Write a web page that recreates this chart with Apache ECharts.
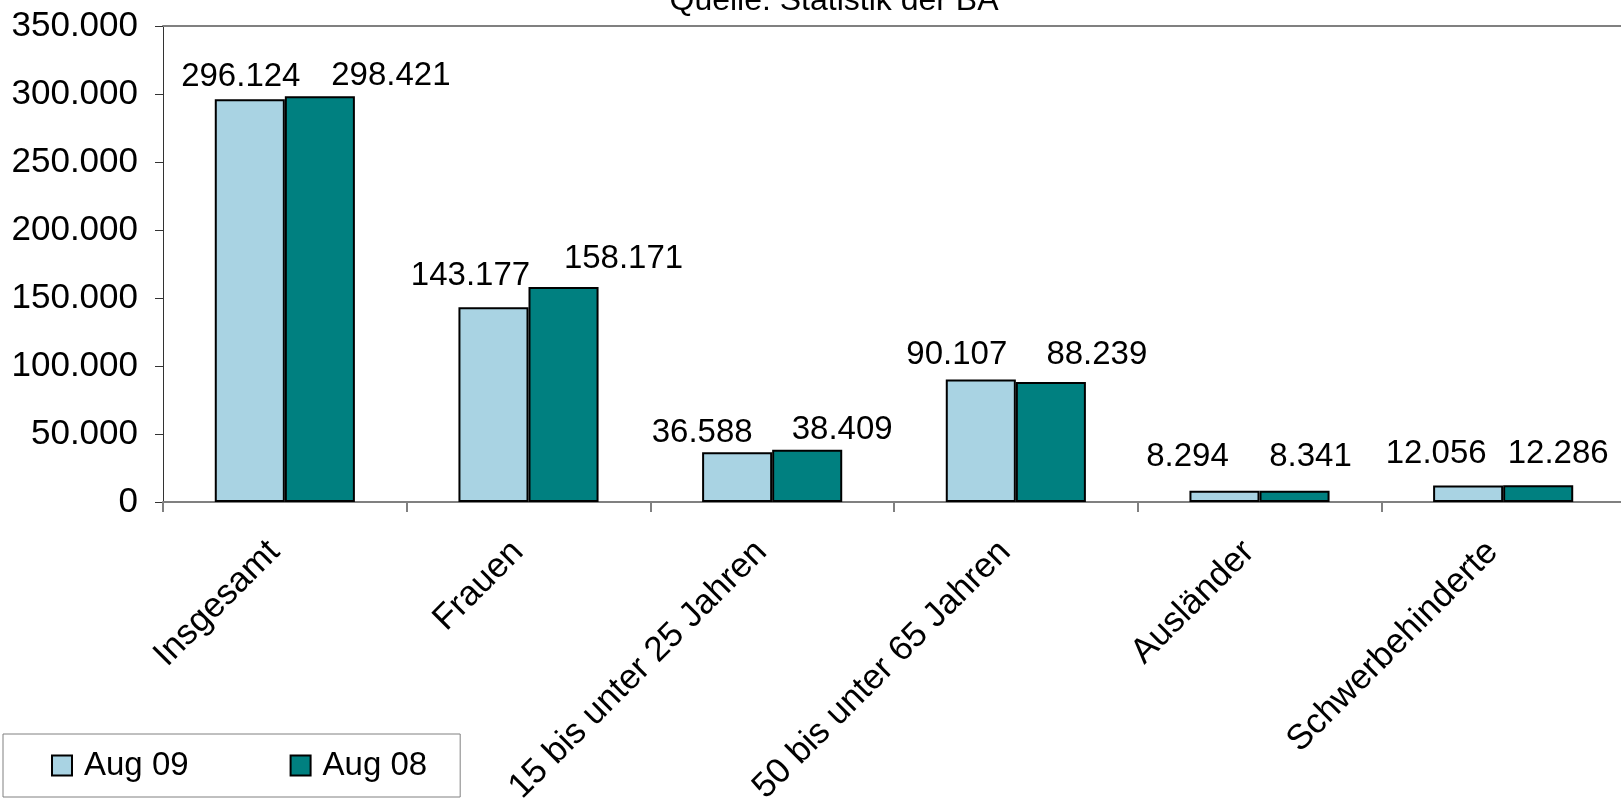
<!DOCTYPE html>
<html>
<head>
<meta charset="utf-8">
<script src="https://cdn.jsdelivr.net/npm/echarts@6/dist/echarts.min.js"></script>
<style>
  html, body { margin: 0; padding: 0; background: #fff; }
  #chart { width: 1621px; height: 799px; }
</style>
</head>
<body>
<div id="chart"></div>
<script>
var categories = ['Insgesamt', 'Frauen', '15 bis unter 25 Jahren', '50 bis unter 65 Jahren', 'Ausländer', 'Schwerbehinderte'];
var aug09 = [296124, 143177, 36588, 90107, 8294, 12056];
var aug08 = [298421, 158171, 38409, 88239, 8341, 12286];
var seriesNames = ['Aug 09', 'Aug 08'];
var sourceText = 'Quelle: Statistik der BA';

// Verschiebung der Wertbeschriftungen wie im Original (px)
var shift09 = [[-9, -6], [-23, -15], [-35, -3], [-24, -8], [-37, -17], [-32, -15]];
var shift08 = [[71, -4], [60, -11], [35, -3], [46, -11], [16, -17], [20, -15]];

var font = 'Liberation Sans, Arial, sans-serif';

// deutsche Tausenderpunkte
function fmt(v) {
    return String(v).replace(/\B(?=(\d{3})+(?!\d))/g, '.');
}

function withLabels(values, shifts) {
    return values.map(function (v, i) {
        return { value: v, label: { offset: shifts[i] } };
    });
}

var valueLabel = {
    show: true, position: 'top', distance: 0,
    fontSize: 33, color: '#000', fontFamily: font,
    formatter: function (p) { return fmt(p.value); }
};

var chart = echarts.init(document.getElementById('chart'));
chart.setOption({
    animation: false,
    textStyle: { fontFamily: font },
    graphic: [{
        type: 'text',
        style: {
            text: sourceText,
            x: 834,
            y: 1,
            textAlign: 'center',
            textVerticalAlign: 'middle',
            font: '32px ' + font,
            fill: '#000'
        }
    }],
    grid: { left: 163, right: -4, top: 26, bottom: 297, containLabel: false, outerBoundsMode: 'none' },
    legend: {
        left: 3,
        top: 734,
        orient: 'horizontal',
        padding: [15, 33, 15, 48],
        borderColor: '#808080',
        borderWidth: 1,
        itemWidth: 20,
        itemHeight: 20,
        itemGap: 101,
        icon: 'rect',
        textStyle: { fontSize: 33, color: '#000', fontFamily: font, padding: [0, 0, 0, 7] },
        data: seriesNames
    },
    xAxis: [{
        type: 'category',
        data: categories,
        boundaryGap: true,
        axisLine: { lineStyle: { color: '#808080', width: 2 } },
        axisTick: { show: true, length: 10, lineStyle: { color: '#808080', width: 2 } },
        axisLabel: {
            rotate: 45, fontSize: 35, color: '#000', margin: 34, interval: 0,
            fontFamily: font, padding: [0, 15, 0, 0]
        }
    }, {
        type: 'category',
        position: 'top',
        data: categories,
        axisLine: { lineStyle: { color: '#808080', width: 2 } },
        axisTick: { show: false },
        axisLabel: { show: false }
    }],
    yAxis: {
        type: 'value',
        min: 0,
        max: 350000,
        interval: 50000,
        splitLine: { show: false },
        axisLine: { show: true, lineStyle: { color: '#333', width: 1 } },
        axisTick: { show: true, length: 8, lineStyle: { color: '#333' } },
        axisLabel: { fontSize: 35, color: '#000', margin: 25, formatter: fmt, fontFamily: font }
    },
    series: [{
        name: seriesNames[0],
        type: 'bar',
        data: withLabels(aug09, shift09),
        barGap: '0%',
        barCategoryGap: '42.5%',
        itemStyle: { color: '#A9D3E3', borderColor: '#000', borderWidth: 2 },
        label: valueLabel
    }, {
        name: seriesNames[1],
        type: 'bar',
        data: withLabels(aug08, shift08),
        itemStyle: { color: '#008080', borderColor: '#000', borderWidth: 2 },
        label: valueLabel
    }]
});
</script>
</body>
</html>
